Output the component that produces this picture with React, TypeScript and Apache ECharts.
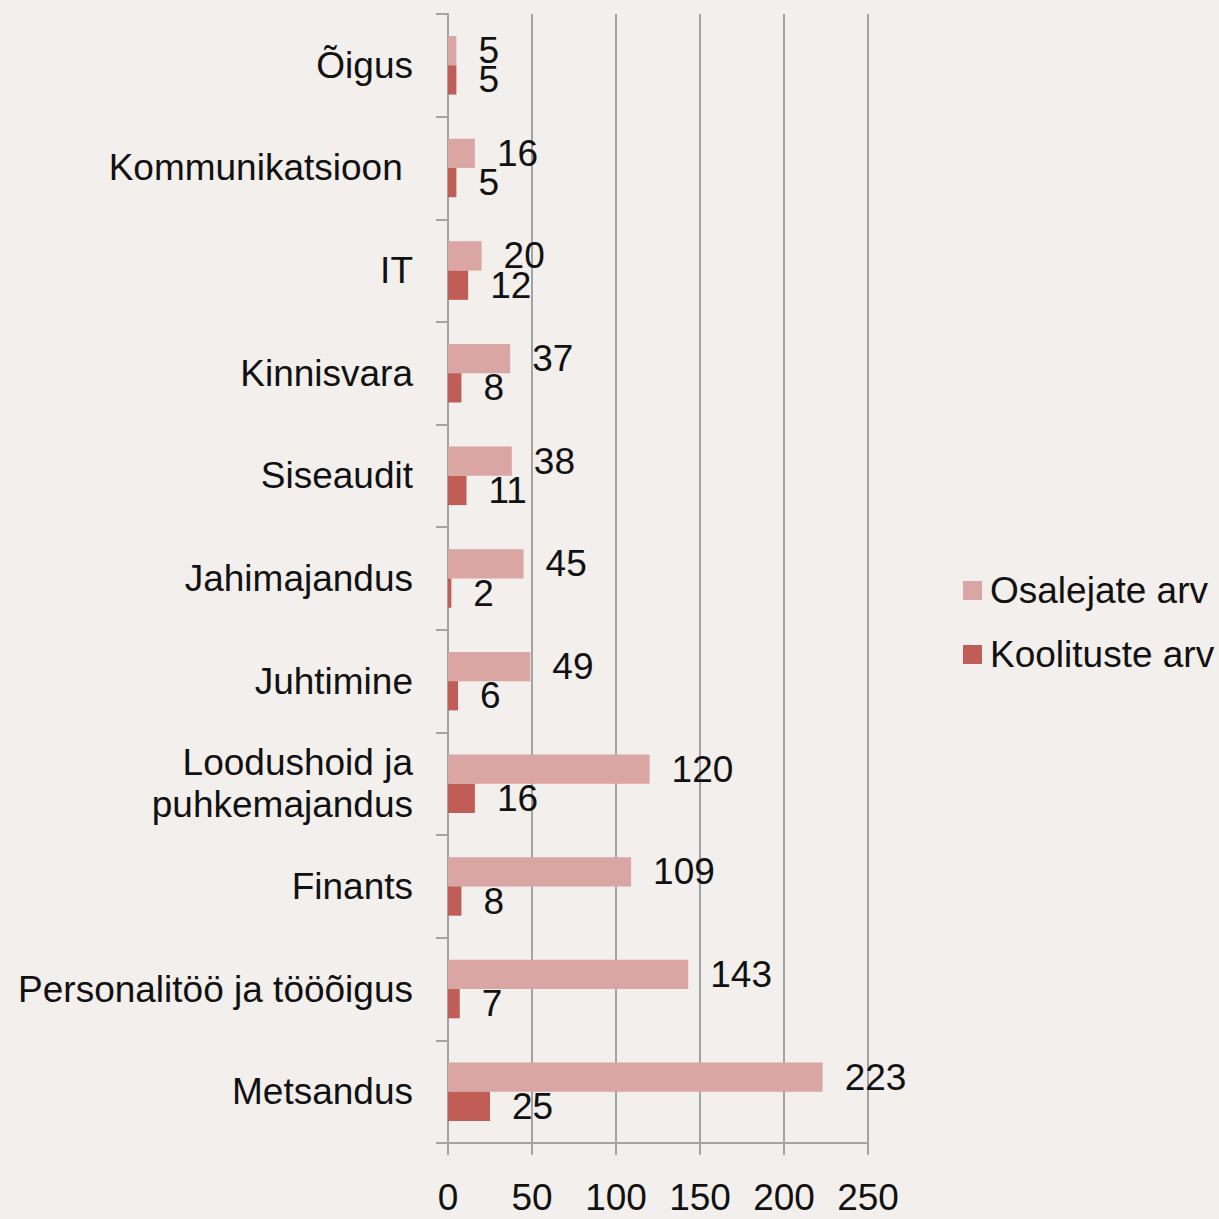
import React, { useEffect, useRef } from "react";
import * as echarts from "echarts";

const categories = [
  "Õigus",
  "Kommunikatsioon ",
  "IT",
  "Kinnisvara",
  "Siseaudit",
  "Jahimajandus",
  "Juhtimine",
  "Loodushoid ja\npuhkemajandus",
  "Finants",
  "Personalitöö ja tööõigus",
  "Metsandus",
];
const osalejateArv = [5, 16, 20, 37, 38, 45, 49, 120, 109, 143, 223];
const koolitusteArv = [5, 5, 12, 8, 11, 2, 6, 16, 8, 7, 25];
const seriesNames = ["Osalejate arv", "Koolituste arv"];
const xTicks = { min: 0, max: 250, interval: 50 };

const FONT = "Liberation Sans";
const FS = 37;
const AXIS_COLOR = "#a3a3a3";
const BG = "#f3efec";

export default function App() {
  const ref = useRef<HTMLDivElement>(null);
  useEffect(() => {
    document.body.style.margin = "0";
    document.body.style.background = BG;
    if (!ref.current) return;
    const chart = echarts.init(ref.current, undefined, { renderer: "svg" });
    const labelStyle = {
      show: true,
      position: "right" as const,
      distance: 22,
      color: "#111",
      fontSize: FS,
      lineHeight: 28,
      fontFamily: FONT,
    };
    chart.setOption({
      animation: false,
      backgroundColor: BG,
      textStyle: { fontFamily: FONT },
      grid: { left: 448, right: 351, top: 14, bottom: 76, containLabel: false },
      legend: {
        orient: "vertical",
        left: 958,
        top: 567,
        itemWidth: 19,
        itemHeight: 19,
        itemGap: 27,
        icon: "rect",
        textStyle: { fontSize: FS, color: "#111", fontFamily: FONT, padding: [0, 0, 0, 3] },
        data: seriesNames,
      },
      xAxis: {
        type: "value",
        min: xTicks.min,
        max: xTicks.max,
        interval: xTicks.interval,
        axisLine: { show: true, lineStyle: { color: AXIS_COLOR, width: 2 } },
        axisTick: { show: true, length: 12, lineStyle: { color: AXIS_COLOR, width: 2 } },
        splitLine: { show: true, lineStyle: { color: AXIS_COLOR, width: 2 } },
        axisLabel: { color: "#111", fontSize: FS, fontFamily: FONT, margin: 36 },
      },
      yAxis: {
        type: "category",
        inverse: true,
        data: categories,
        axisLine: { show: true, lineStyle: { color: AXIS_COLOR, width: 2 } },
        axisTick: { show: true, length: 12, lineStyle: { color: AXIS_COLOR, width: 2 } },
        axisLabel: {
          color: "#111",
          fontSize: FS,
          fontFamily: FONT,
          margin: 35,
          lineHeight: 42,
          align: "right",
        },
        splitLine: { show: false },
      },
      series: [
        {
          name: seriesNames[0],
          type: "bar",
          data: osalejateArv,
          itemStyle: { color: "#d9a6a4" },
          barCategoryGap: "43%",
          barGap: "0%",
          label: labelStyle,
        },
        {
          name: seriesNames[1],
          type: "bar",
          data: koolitusteArv,
          itemStyle: { color: "#bf5d56" },
          barCategoryGap: "43%",
          barGap: "0%",
          label: labelStyle,
        },
      ],
    });
    return () => chart.dispose();
  }, []);
  return <div ref={ref} style={{ width: 1219, height: 1219 }} />;
}
